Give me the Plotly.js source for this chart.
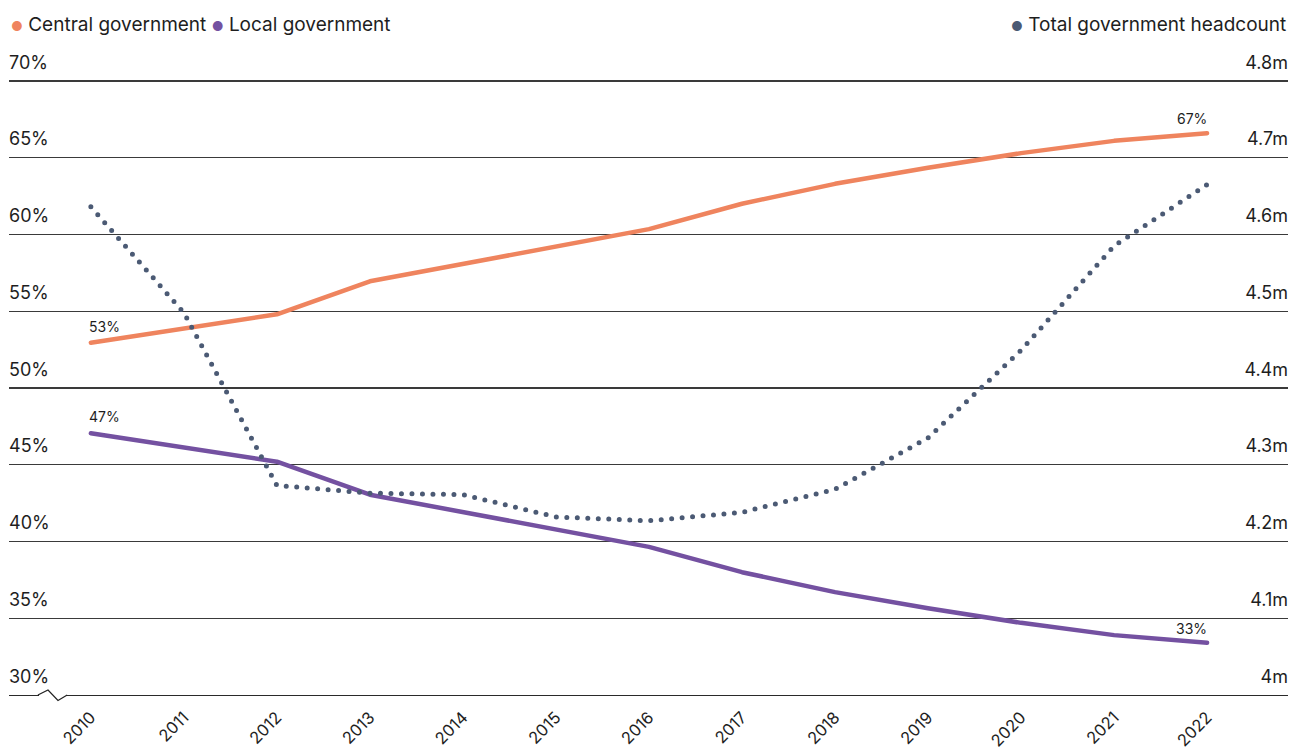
<!DOCTYPE html>
<html>
<head>
<meta charset="utf-8">
<script src="https://cdn.plot.ly/plotly-3.0.1.min.js"></script>
<style>
  html, body { margin: 0; padding: 0; background: #fff; }
  #chart { width: 1290px; height: 752px; }
  .js-line { stroke-linecap: round; stroke-linejoin: round; }
</style>
</head>
<body>
<div id="chart"></div>
<script>
// ---- data ----
const years = [2010, 2011, 2012, 2013, 2014, 2015, 2016, 2017, 2018, 2019, 2020, 2021, 2022];
const centralShare = [52.95, 53.9, 54.8, 56.95, 58.1, 59.2, 60.35, 62.0, 63.3, 64.35, 65.3, 66.1, 66.6];
const localShare = [47.05, 46.1, 45.2, 43.05, 41.9, 40.8, 39.65, 38.0, 36.7, 35.65, 34.7, 33.9, 33.4];
const totalHeadcount = [4.636, 4.498, 4.273, 4.263, 4.261, 4.232, 4.227, 4.238, 4.268, 4.335, 4.449, 4.585, 4.665];
const leftTicks = [30, 35, 40, 45, 50, 55, 60, 65, 70];
const leftTickText = ['30%', '35%', '40%', '45%', '50%', '55%', '60%', '65%', '70%'];
const rightTicks = [4.0, 4.1, 4.2, 4.3, 4.4, 4.5, 4.6, 4.7, 4.8];
const rightTickText = ['4m', '4.1m', '4.2m', '4.3m', '4.4m', '4.5m', '4.6m', '4.7m', '4.8m'];
const seriesNames = ['Central government', 'Local government', 'Total government headcount'];

const cOrange = '#EF845E';
const cPurple = '#7451A1';
const cSlate = '#4B5A74';
const txt = '#1e1e1e';
const FONT = 'Inter, "Open Sans", sans-serif';

const traces = [
  { x: years, y: centralShare, name: seriesNames[0], type: 'scatter', mode: 'lines',
    line: { color: cOrange, width: 4.5 }, yaxis: 'y', hoverinfo: 'skip' },
  { x: years, y: localShare, name: seriesNames[1], type: 'scatter', mode: 'lines',
    line: { color: cPurple, width: 4.5 }, yaxis: 'y', hoverinfo: 'skip' },
  { x: years, y: totalHeadcount, name: seriesNames[2], type: 'scatter', mode: 'lines',
    line: { color: cSlate, width: 5, dash: '0px,10.5px' }, yaxis: 'y2', hoverinfo: 'skip' }
];

const n = years.length - 1;
const dot = (c) => `<span style="color:${c};font-size:13px">●</span>`;

const annotations = [
  { xref: 'paper', yref: 'paper', x: 0.0, y: 1.0291, xanchor: 'left', yanchor: 'middle', showarrow: false,
    text: dot(cOrange) + ' ' + seriesNames[0] + ' ' + dot(cPurple) + ' ' + seriesNames[1],
    font: { family: FONT, size: 19, color: txt } },
  { xref: 'paper', yref: 'paper', x: 1.0, y: 1.0291, xanchor: 'right', yanchor: 'middle', showarrow: false,
    text: dot(cSlate) + ' ' + seriesNames[2],
    font: { family: FONT, size: 19, color: txt } },
  { x: years[0], y: centralShare[0], xref: 'x', yref: 'y', xanchor: 'left', yanchor: 'bottom', yshift: 6, xshift: -4,
    showarrow: false, text: Math.round(centralShare[0]) + '%', font: { family: FONT, size: 14, color: txt } },
  { x: years[0], y: localShare[0], xref: 'x', yref: 'y', xanchor: 'left', yanchor: 'bottom', yshift: 6, xshift: -4,
    showarrow: false, text: Math.round(localShare[0]) + '%', font: { family: FONT, size: 14, color: txt } },
  { x: years[n], y: centralShare[n], xref: 'x', yref: 'y', xanchor: 'right', yanchor: 'bottom', yshift: 4, xshift: 2,
    showarrow: false, text: Math.round(centralShare[n]) + '%', font: { family: FONT, size: 14, color: txt } },
  { x: years[n], y: localShare[n], xref: 'x', yref: 'y', xanchor: 'right', yanchor: 'bottom', yshift: 4, xshift: 2,
    showarrow: false, text: Math.round(localShare[n]) + '%', font: { family: FONT, size: 14, color: txt } }
];

const layout = {
  width: 1290, height: 752,
  margin: { l: 9, r: 2, t: 43, b: 57 },
  paper_bgcolor: '#fff', plot_bgcolor: '#fff',
  showlegend: false,
  font: { family: FONT, color: txt },
  xaxis: {
    range: [2009.12, 2022.87],
    tickvals: years, ticktext: years.map(String),
    tickangle: -45, tickfont: { family: FONT, size: 16.5, color: txt },
    ticklabelstandoff: 5,
    showgrid: false, zeroline: false, showline: true, linecolor: '#2a2a2a', linewidth: 1.3,
    ticks: '', ticklen: 0
  },
  yaxis: {
    range: [30, 72.475], tickvals: leftTicks, ticktext: leftTickText,
    ticklabelposition: 'inside top', ticklabelshift: -6, ticklabelstandoff: -3,
    tickfont: { family: FONT, size: 18, color: txt },
    showgrid: true, gridcolor: '#3a3a3a', gridwidth: 1.2, zeroline: false, showline: false, ticks: ''
  },
  yaxis2: {
    range: [4.0, 4.8495], overlaying: 'y', side: 'right', tickvals: rightTicks, ticktext: rightTickText,
    ticklabelposition: 'inside top', ticklabelshift: -6, ticklabelstandoff: -3,
    tickfont: { family: FONT, size: 18, color: txt },
    showgrid: false, zeroline: false, showline: false, ticks: ''
  },
  shapes: [
    { type: 'rect', xref: 'paper', yref: 'paper', x0: 0.0235, x1: 0.0445, y0: -0.004, y1: 0.004,
      fillcolor: '#fff', line: { width: 0 }, layer: 'above' },
    { type: 'path', xref: 'paper', yref: 'paper', layer: 'above',
      path: 'M 0.0226 0 L 0.0305 0.0077 L 0.0383 -0.0084 L 0.0455 0',
      line: { color: '#222', width: 1.2 } }
  ],
  annotations: annotations
};

Plotly.newPlot('chart', traces, layout, { staticPlot: true, displayModeBar: false });
</script>
</body>
</html>
